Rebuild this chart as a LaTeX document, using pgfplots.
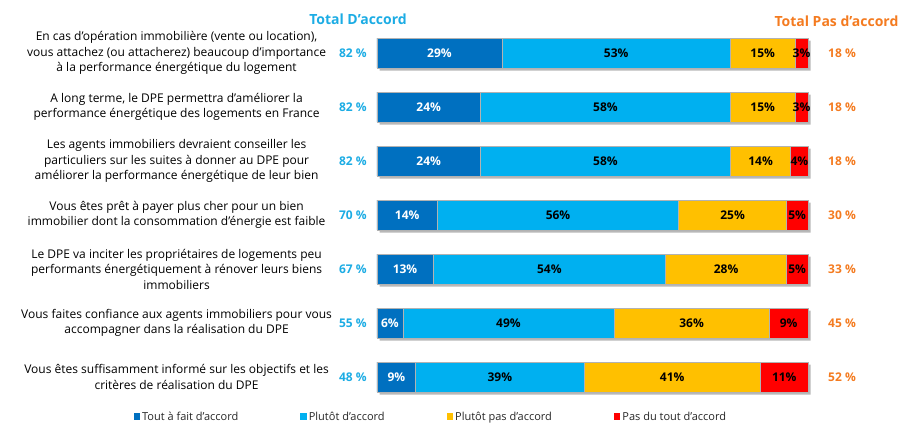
\documentclass[border=0pt]{standalone}
\usepackage{fontspec}
\setmainfont{Open Sans}
\usepackage{pgfplots}
\pgfplotsset{compat=1.18}
\definecolor{cA}{HTML}{0070C0}
\definecolor{cB}{HTML}{00B0F0}
\definecolor{cC}{HTML}{FFC000}
\definecolor{cD}{HTML}{FF0000}
\definecolor{tBlue}{HTML}{1CACE4}
\definecolor{tOrange}{HTML}{F47B20}
\pgfplotsset{bars/.style={
  scale only axis, width=431pt, height=378pt,
  xbar stacked, bar width=30pt,
  xmin=0, xmax=100, ymin=-0.5, ymax=6.5, y dir=reverse,
  axis lines=none, clip=false}}
% centred label in a segment: x centre, row, value, text colour
\newcommand{\segval}[4]{\node[font=\fontsize{12}{14}\selectfont\bfseries, text=#4] at (axis cs:#1,#2) {#3\%};}
\newcommand{\qlab}[2]{\node[font=\fontsize{12}{15.5}\selectfont, align=center] at (axis cs:-46.5,#1) {#2};}
\newcommand{\totals}[3]{%
  \node[font=\fontsize{12}{14}\selectfont\bfseries, text=tBlue] at (axis cs:-5.6,#1) {#2~\%};
  \node[font=\fontsize{12}{14}\selectfont\bfseries, text=tOrange] at (axis cs:107.9,#1) {#3~\%};}
\begin{document}
\begin{tikzpicture}
\useasboundingbox (0,0) rectangle (903pt,-423pt);
% drop shadow of the bars
\begin{axis}[bars, at={(379.5pt,-28.5pt)}, anchor=north west]
\addplot[fill=black!28, draw=none] coordinates {(100,0) (100,1) (100,2) (100,3) (100,4) (100,5) (100,6)};
\end{axis}
% the bars
\begin{axis}[bars, at={(377pt,-26pt)}, anchor=north west,
  legend columns=4,
  legend style={at={(0.125,-0.034)}, anchor=center, draw=none, fill=none,
    font=\fontsize{11}{13}\selectfont, text=black!85,
    /tikz/every even column/.append style={column sep=60pt}},
  legend image code/.code={\fill[#1, draw=none] (0pt,-3.5pt) rectangle (6.5pt,3.5pt);},
  every axis plot/.append style={draw=gray!60, line width=0.6pt},
]
\addplot[fill=cA] coordinates {(29,0) (24,1) (24,2) (14,3) (13,4) (6,5) (9,6)};
\addlegendentry{Tout à fait d'accord}
\addplot[fill=cB] coordinates {(53,0) (58,1) (58,2) (56,3) (54,4) (49,5) (39,6)};
\addlegendentry{Plutôt d'accord}
\addplot[fill=cC] coordinates {(15,0) (15,1) (14,2) (25,3) (28,4) (36,5) (41,6)};
\addlegendentry{Plutôt pas d'accord}
\addplot[fill=cD] coordinates {(3,0) (3,1) (4,2) (5,3) (5,4) (9,5) (11,6)};
\addlegendentry{Pas du tout d'accord}
\end{axis}
% texts, on top of the bars
\begin{axis}[bars, at={(377pt,-26pt)}, anchor=north west]
\segval{14.5}{0}{29}{white}\segval{55.5}{0}{53}{black}\segval{89.5}{0}{15}{black}\segval{98.5}{0}{3}{black}
\segval{12}{1}{24}{white}\segval{53}{1}{58}{black}\segval{89.5}{1}{15}{black}\segval{98.5}{1}{3}{black}
\segval{12}{2}{24}{white}\segval{53}{2}{58}{black}\segval{89}{2}{14}{black}\segval{98}{2}{4}{black}
\segval{7}{3}{14}{white}\segval{42}{3}{56}{black}\segval{82.5}{3}{25}{black}\segval{97.5}{3}{5}{black}
\segval{6.5}{4}{13}{white}\segval{40}{4}{54}{black}\segval{81}{4}{28}{black}\segval{97.5}{4}{5}{black}
\segval{3}{5}{6}{white}\segval{30.5}{5}{49}{black}\segval{73}{5}{36}{black}\segval{95.5}{5}{9}{black}
\segval{4.5}{6}{9}{white}\segval{28.5}{6}{39}{black}\segval{68.5}{6}{41}{black}\segval{94.5}{6}{11}{black}
% totals
\totals{0}{82}{18}\totals{1}{82}{18}\totals{2}{82}{18}\totals{3}{70}{30}
\totals{4}{67}{33}\totals{5}{55}{45}\totals{6}{48}{52}
\node[font=\fontsize{14}{16}\selectfont\bfseries, text=tBlue] at (axis cs:-4.4,-0.62) {Total D'accord};
\node[font=\fontsize{14}{16}\selectfont\bfseries, text=tOrange] at (axis cs:106.6,-0.58) {Total Pas d'accord};
% question labels
\qlab{0}{En cas d'opération immobilière (vente ou location),\\vous attachez (ou attacherez) beaucoup d'importance\\à la performance énergétique du logement}
\qlab{1}{A long terme, le DPE permettra d'améliorer la\\performance énergétique des logements en France}
\qlab{2}{Les agents immobiliers devraient conseiller les\\particuliers sur les suites à donner au DPE pour\\améliorer la performance énergétique de leur bien}
\qlab{3}{Vous êtes prêt à payer plus cher pour un bien\\immobilier dont la consommation d'énergie est faible}
\qlab{4}{Le DPE va inciter les propriétaires de logements peu\\performants énergétiquement à rénover leurs biens\\immobiliers}
\qlab{5}{Vous faites confiance aux agents immobiliers pour vous\\accompagner dans la réalisation du DPE}
\qlab{6}{Vous êtes suffisamment informé sur les objectifs et les\\critères de réalisation du DPE}
\end{axis}
\end{tikzpicture}
\end{document}
